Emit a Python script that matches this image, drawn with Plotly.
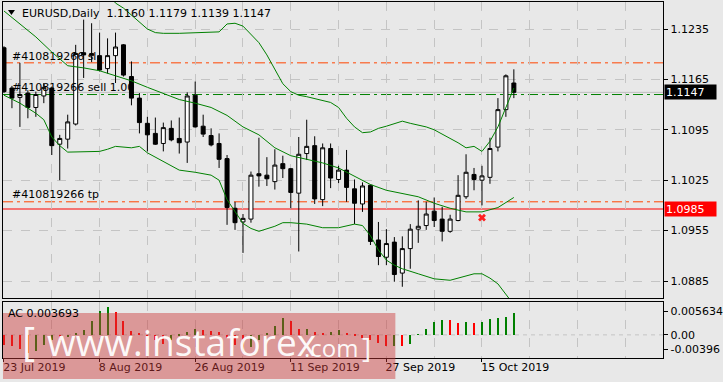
import plotly.graph_objects as go

W, H = 723, 382

# ---------------- data ----------------
opens = [1.1209, 1.1153, 1.1140, 1.1146, 1.1126, 1.1142, 1.1153, 1.1075, 1.1082, 1.1103,
         1.1202, 1.1198, 1.1198, 1.1180, 1.1198, 1.1213, 1.1169, 1.1139, 1.1104, 1.1090,
         1.1076, 1.1097, 1.1083, 1.1078, 1.1143, 1.1100, 1.1087, 1.1076, 1.1055, 1.0986,
         1.0967, 1.0971, 1.1034, 1.1032, 1.1023, 1.1048, 1.1041, 1.1007, 1.1062, 1.1073,
         1.0998, 1.1069, 1.1026, 1.1039, 1.1013, 1.0992, 1.1018, 1.0942, 1.0918, 1.0939,
         1.0896, 1.0930, 1.0957, 1.0962, 1.0982, 1.0971, 1.0954, 1.0969, 1.1002, 1.1033,
         1.1025, 1.1029, 1.1071, 1.1123, 1.1160]
highs = [1.1211, 1.1156, 1.1188, 1.1150, 1.1148, 1.1160, 1.1155, 1.1088, 1.1116, 1.1213,
         1.1248, 1.1243, 1.1230, 1.1222, 1.1230, 1.1214, 1.1190, 1.1146, 1.1113, 1.1112,
         1.1105, 1.1108, 1.1112, 1.1147, 1.1162, 1.1116, 1.1097, 1.1090, 1.1060, 1.0995,
         1.0978, 1.1037, 1.1084, 1.1057, 1.1068, 1.1059, 1.1042, 1.1085, 1.1109, 1.1086,
         1.1076, 1.1076, 1.1045, 1.1067, 1.1026, 1.1022, 1.1019, 1.0967, 1.0957, 1.0946,
         1.0947, 1.0964, 1.0997, 1.0995, 1.1001, 1.0988, 1.0977, 1.1032, 1.1061, 1.1042,
         1.1045, 1.1084, 1.1139, 1.1172, 1.1179]
lows = [1.1146, 1.1125, 1.1099, 1.1111, 1.1113, 1.1132, 1.1060, 1.1025, 1.1069, 1.1101,
        1.1167, 1.1189, 1.1176, 1.1173, 1.1160, 1.1169, 1.1129, 1.1090, 1.1065, 1.1074,
        1.1065, 1.1079, 1.1062, 1.1049, 1.1098, 1.1085, 1.1072, 1.1042, 1.0963, 1.0956,
        1.0924, 1.0966, 1.1016, 1.1017, 1.1012, 1.1028, 1.0986, 1.0926, 1.1053, 1.0992,
        1.0989, 1.1014, 1.1021, 1.0995, 1.0964, 1.0981, 1.0935, 1.0907, 1.0907, 1.0884,
        1.0877, 1.0902, 1.0938, 1.0956, 1.0960, 1.0940, 1.0952, 1.0968, 1.0999, 1.1011,
        1.0990, 1.1020, 1.1065, 1.1113, 1.1139]
closes = [1.1148, 1.1139, 1.1144, 1.1126, 1.1144, 1.1154, 1.1073, 1.1083, 1.1106, 1.1201,
          1.1199, 1.1201, 1.1178, 1.1198, 1.1210, 1.1171, 1.1139, 1.1105, 1.1088, 1.1075,
          1.1098, 1.1081, 1.1077, 1.1142, 1.1099, 1.1089, 1.1074, 1.1054, 1.0987, 1.0966,
          1.0972, 1.1032, 1.1031, 1.1027, 1.1046, 1.1041, 1.1008, 1.1061, 1.1072, 1.0999,
          1.1070, 1.1028, 1.1039, 1.1015, 1.0993, 1.1017, 1.0940, 1.0919, 1.0937, 1.0894,
          1.0930, 1.0957, 1.0961, 1.0978, 1.0969, 1.0954, 1.0971, 1.1004, 1.1036, 1.1026,
          1.1031, 1.1069, 1.1123, 1.1170, 1.1147]

bb_upper_idx = [13, 14, 15, 16, 17, 18, 19, 20, 22, 24, 26, 27, 28, 29, 30, 31, 32, 33, 34, 35,
                36, 37, 38, 40, 41, 42, 43, 44, 45, 46, 47, 48, 49, 50, 51, 52, 53, 54, 55, 56,
                57, 58, 59, 60, 61, 62, 63, 64]
bb_upper = [1.1286, 1.1271, 1.1264, 1.1254, 1.1245, 1.1235, 1.1230, 1.1229, 1.1229, 1.1230,
            1.1231, 1.1231, 1.1242, 1.1243, 1.1239, 1.1227, 1.1216, 1.1199, 1.1178, 1.1159,
            1.1148, 1.1143, 1.1141, 1.1136, 1.1133, 1.1126, 1.1111, 1.1099, 1.1091, 1.1092,
            1.1097, 1.1100, 1.1104, 1.1107, 1.1104, 1.1102, 1.1099, 1.1095, 1.1089, 1.1084,
            1.1077, 1.1070, 1.1072, 1.1065, 1.1079, 1.1099, 1.1125, 1.1153]
bb_mid_idx = [0, 2, 4, 6, 8, 10, 12, 14, 16, 18, 20, 22, 24, 26, 28, 30, 32, 34, 36, 38,
              40, 42, 44, 46, 48, 50, 52, 54, 56, 58, 60, 62, 64]
bb_mid = [1.1260, 1.1242, 1.1224, 1.1203, 1.1184, 1.1181, 1.1177, 1.1170, 1.1163, 1.1154,
          1.1145, 1.1137, 1.1132, 1.1126, 1.1115, 1.1099, 1.1088, 1.1070, 1.1059, 1.1054,
          1.1049, 1.1042, 1.1031, 1.1019, 1.1011, 1.1007, 1.1002, 1.0993, 1.0986, 1.0981,
          1.0981, 1.0987, 1.1001]
bb_lower_idx = [0, 2, 4, 5, 6, 7, 8, 10, 12, 13, 14, 16, 17, 18, 19, 20, 22, 24, 26, 27,
                28, 30, 31, 32, 34, 35, 36, 38, 40, 42, 43, 44, 45, 46, 47, 48, 49, 50, 52, 54,
                56, 58, 59, 60, 61, 62, 63, 64]
bb_lower = [1.1143, 1.1132, 1.1118, 1.1109, 1.1085, 1.1073, 1.1064, 1.1064, 1.1065, 1.1068,
            1.1072, 1.1070, 1.1072, 1.1063, 1.1057, 1.1052, 1.1039, 1.1036, 1.1032, 1.1025,
            1.0998, 1.0965, 1.0958, 1.0954, 1.0961, 1.0966, 1.0966, 1.0964, 1.0959, 1.0959,
            1.0962, 1.0964, 1.0962, 1.0948, 1.0928, 1.0914, 1.0907, 1.0902, 1.0895, 1.0888,
            1.0886, 1.0892, 1.0895, 1.0895, 1.0889, 1.0881, 1.0866, 1.0852]

ac_values = [-0.001656, -0.001827, -0.002398, -0.003141, -0.002684, -0.001656, -0.000800, -0.001085, -0.000400, 0.000171,
             0.000857, 0.002456, 0.004055, 0.004740, 0.003940, 0.002341, 0.000742, 0.000171, -0.000400, -0.000950,
             -0.001600, -0.000900, -0.000100, 0.000550, 0.000950, 0.000800, 0.000685, 0.000514, -0.000571, -0.001713,
             -0.002855, -0.001999, -0.000857, 0.000286, 0.001485, 0.002912, 0.002456, 0.000971, 0.001028, 0.000457,
             0.000286, 0.000571, 0.000857, 0.000171, -0.000171, -0.000514, -0.000800, -0.001371, -0.001942, -0.001885,
             -0.001942, -0.001485, 0.000057, 0.001028, 0.002170, 0.002627, 0.002513, 0.002113, 0.002170, 0.002056,
             0.002170, 0.002684, 0.002855, 0.003141, 0.003693]

tick_idx = [0, 12, 24, 36, 48, 60]
tick_labels = ["23 Jul 2019", "8 Aug 2019", "26 Aug 2019", "11 Sep 2019", "27 Sep 2019", "15 Oct 2019"]
price_ticks = [1.0885, 1.0955, 1.1025, 1.1095, 1.1165, 1.1235]
ac_tick_text = ["0.005634", "0.00", "-0.00396"]
ac_range = [-0.00396, 0.005634]

order_ticket = "#410819266"
order_sl = 1.1188
order_open = 1.1144
order_tp = 1.0995
alert_level = 1.0985
close_mark_idx = 60
close_mark_price = 1.0973

symbol = "EURUSD,Daily"

# ---------------- layout helpers ----------------
BG = "#E8E8E8"
GRID = "#C4C4C4"
GREEN = "#008000"
ORANGE = "#FF4500"
FONT = "DejaVu Sans"

def px(x):
    return x / W

def py(y):
    return 1 - y / H

X0, X1 = 3, 666            # plot frame, pixels
MAIN_T, MAIN_B = 2, 298
SUB_T, SUB_B = 302, 358
LBL_T = 360                # date label strip top
BAR_PX = 8.0
BAR0_PX = 4.0
xr = [(X0 - BAR0_PX) / BAR_PX, (X1 - BAR0_PX) / BAR_PX]
PX_PER_PRICE = 7200.0
yr = [1.1235 - (MAIN_B - 29) / PX_PER_PRICE, 1.1235 + (29 - MAIN_T) / PX_PER_PRICE]
ac_ppu = (SUB_B - SUB_T) / (ac_range[1] - ac_range[0])

def ac_at(ypix):
    return ac_range[1] - (ypix - SUB_T) / ac_ppu

n = len(closes)
idx = list(range(n))

fig = go.Figure()

# order labels (under candles)
fig.add_trace(go.Scatter(
    x=[1, 1, 1], y=[order_sl + 0.00080, order_open + 0.00085, order_tp + 0.0009],
    mode="text", text=[order_ticket + " sl", order_ticket + " sell 1.00", order_ticket + " tp"],
    textposition="middle right", textfont=dict(family=FONT, size=11, color="#000000"),
    hoverinfo="skip", xaxis="x", yaxis="y", cliponaxis=False))

# Bollinger bands
for bx, by in [(bb_upper_idx, bb_upper), (bb_mid_idx, bb_mid), (bb_lower_idx, bb_lower)]:
    fig.add_trace(go.Scatter(x=bx, y=by, mode="lines", line=dict(color=GREEN, width=1),
                             hoverinfo="skip", xaxis="x", yaxis="y"))

# candles
fig.add_trace(go.Candlestick(
    x=idx, open=opens, high=highs, low=lows, close=closes,
    increasing=dict(line=dict(color="#000000", width=1), fillcolor="#FFFFFF"),
    decreasing=dict(line=dict(color="#000000", width=1), fillcolor="#000000"),
    whiskerwidth=0, xaxis="x", yaxis="y", hoverinfo="skip"))

# closed order mark
fig.add_trace(go.Scatter(x=[close_mark_idx], y=[close_mark_price], mode="markers",
                         marker=dict(symbol="x", size=7, color="#FF2020", line=dict(width=0)),
                         hoverinfo="skip", xaxis="x", yaxis="y"))

# AC histogram
ac_colors = ["#FF0000"]
for i in range(1, n):
    ac_colors.append(GREEN if ac_values[i] > ac_values[i - 1] else "#FF0000")
fig.add_trace(go.Bar(x=idx, y=ac_values, width=0.13, marker=dict(color=ac_colors, line=dict(width=0)),
                     xaxis="x2", yaxis="y2", hoverinfo="skip"))

# date labels on a hidden strip axis (so the watermark band lies over them)
lbl_y = (H - 368) / (H - LBL_T)
fig.add_trace(go.Scatter(x=[t - 0.1 for t in tick_idx], y=[lbl_y] * len(tick_idx), mode="text",
                         text=tick_labels, textposition="middle right",
                         textfont=dict(family=FONT, size=11, color="#000000"),
                         cliponaxis=False, hoverinfo="skip", xaxis="x3", yaxis="y3"))

shapes = []
def hline(y, color, dash):
    return dict(type="line", xref="paper", yref="y", x0=px(X0), x1=px(X1), y0=y, y1=y,
                line=dict(color=color, width=1, dash=dash), layer="below")

shapes.append(hline(closes[-1], "#BEBEBE", "solid"))
shapes.append(hline(order_sl, ORANGE, "10px,4px,3px,4px"))
shapes.append(hline(order_open, GREEN, "10px,4px,3px,4px"))
shapes.append(hline(order_tp, ORANGE, "10px,4px,3px,4px"))
shapes.append(hline(alert_level, "#FF0000", "solid"))
shapes.append(dict(type="line", xref="paper", yref="y2", x0=px(X0), x1=px(X1), y0=0, y1=0,
                   line=dict(color=GRID, width=1, dash="4px,4px"), layer="below"))
shapes.append(dict(type="path", xref="paper", yref="paper",
                   path=f"M {px(8)},{py(10)} L {px(15)},{py(10)} L {px(11.5)},{py(15)} Z",
                   fillcolor="#000000", line=dict(width=0), layer="above"))
# watermark band
shapes.append(dict(type="rect", xref="paper", yref="paper", x0=px(3), x1=px(397), y0=py(379), y1=py(313),
                   fillcolor="rgba(205,55,55,0.45)", line=dict(width=0), layer="above"))

annotations = []
annotations.append(dict(xref="paper", yref="paper", x=px(20), y=py(13), xanchor="left", yanchor="middle",
                        text=f"{symbol}  {opens[-1]:.4f} {highs[-1]:.4f} {lows[-1]:.4f} {closes[-1]:.4f}",
                        showarrow=False, font=dict(family=FONT, size=11, color="#000000")))
annotations.append(dict(xref="paper", yref="paper", x=px(6), y=py(313), xanchor="left", yanchor="middle",
                        text=f"AC {ac_values[-1]:.6f}", showarrow=False,
                        font=dict(family=FONT, size=11, color="#000000")))
annotations.append(dict(xref="paper", yref="y", x=px(667), y=closes[-1], xanchor="left", yanchor="middle",
                        text=f"{closes[-1]:.4f}", showarrow=False, bgcolor="#000000", width=49, height=12,
                        borderpad=1, align="left", font=dict(family=FONT, size=11, color="#FFFFFF")))
annotations.append(dict(xref="paper", yref="y", x=px(667), y=alert_level, xanchor="left", yanchor="middle",
                        text=f"{alert_level:.4f}", showarrow=False, bgcolor="#FF0000", width=49, height=12,
                        borderpad=1, align="left", font=dict(family=FONT, size=11, color="#FFFFFF")))
WM = "rgba(255,255,255,0.95)"
annotations.append(dict(xref="paper", yref="paper", x=px(20), y=py(340), xanchor="left", yanchor="middle",
                        text="[", showarrow=False, font=dict(family="Open Sans", size=40, color=WM)))
annotations.append(dict(xref="paper", yref="paper", x=px(45), y=py(341), xanchor="left", yanchor="middle",
                        text="www.instaforex", showarrow=False, font=dict(family="Open Sans", size=37, color=WM)))
annotations.append(dict(xref="paper", yref="paper", x=px(303), y=py(347), xanchor="left", yanchor="middle",
                        text=".com", showarrow=False, font=dict(family="Open Sans", size=24, color=WM)))
annotations.append(dict(xref="paper", yref="paper", x=px(362), y=py(347), xanchor="left", yanchor="middle",
                        text="]", showarrow=False, font=dict(family="Open Sans", size=28, color=WM)))

xdom = [px(X0), px(X1)]
grid_idx = list(range(6, 80, 6))
fig.update_layout(
    width=W, height=H, margin=dict(l=0, r=0, t=0, b=0),
    paper_bgcolor=BG, plot_bgcolor=BG, showlegend=False,
    font=dict(family=FONT, size=11, color="#000000"),
    boxgap=0.5, boxgroupgap=0, bargap=0,
    shapes=shapes, annotations=annotations,
    xaxis=dict(domain=xdom, range=xr, anchor="y", tickmode="array", tickvals=grid_idx,
               showticklabels=False, ticks="", showgrid=True, gridcolor=GRID, griddash="dash", gridwidth=1,
               showline=True, mirror=True, linecolor="#000000", linewidth=1, zeroline=False,
               rangeslider=dict(visible=False), fixedrange=True),
    yaxis=dict(domain=[py(MAIN_B), py(MAIN_T)], range=yr, anchor="x", side="right",
               tickmode="array", tickvals=price_ticks, ticktext=[f"{v:.4f}" for v in price_ticks],
               ticks="outside", ticklen=4, tickcolor="#000000", showgrid=True, gridcolor=GRID, griddash="dash",
               showline=True, mirror=True, linecolor="#000000", linewidth=1, zeroline=False, fixedrange=True,
               tickfont=dict(family=FONT, size=11, color="#000000")),
    xaxis2=dict(domain=xdom, range=xr, anchor="y2", tickmode="array", tickvals=tick_idx,
                showticklabels=False, ticks="outside", ticklen=3, tickcolor="#000000",
                showgrid=True, gridcolor=GRID, griddash="dash",
                minor=dict(tickmode="array", tickvals=[6, 18, 30, 42, 54, 66, 72, 78], showgrid=True,
                           gridcolor=GRID, griddash="dash", ticks=""),
                showline=True, mirror=True, linecolor="#000000", linewidth=1, zeroline=False, fixedrange=True),
    yaxis2=dict(domain=[py(SUB_B), py(SUB_T)], range=ac_range, anchor="x2", side="right",
                tickmode="array", tickvals=[ac_at(311.2), 0, ac_at(349.2)], ticktext=ac_tick_text,
                ticks="outside", ticklen=4, tickcolor="#000000", showgrid=False,
                showline=True, mirror=True, linecolor="#000000", linewidth=1, zeroline=False, fixedrange=True,
                tickfont=dict(family=FONT, size=11, color="#000000")),
    xaxis3=dict(domain=xdom, range=xr, anchor="y3", visible=False, fixedrange=True),
    yaxis3=dict(domain=[0, py(LBL_T)], range=[0, 1], anchor="x3", visible=False, fixedrange=True),
)

fig.write_html("out.html")
